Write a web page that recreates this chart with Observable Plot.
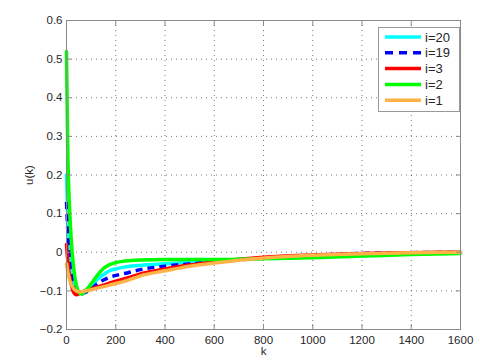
<!DOCTYPE html>
<html><head><meta charset="utf-8">
<script src="https://cdn.jsdelivr.net/npm/d3@7"></script>
<script src="https://cdn.jsdelivr.net/npm/@observablehq/plot@0.6"></script>
<style>body{margin:0;background:#fff}#chart{width:480px;height:363px}</style>
</head><body><div id="chart"></div>
<script>
// sample positions k
const kValues = [0, 5, 10, 15, 20, 25, 30, 40, 50, 60, 70, 80, 100, 125, 150, 175, 200, 250, 300, 400, 500, 600, 800, 1000, 1200, 1400, 1600];
// u(k) per series
const u20 = [0.20, 0.10, 0.03, 0.0, -0.03, -0.055, -0.075, -0.095, -0.105, -0.107, -0.105, -0.10, -0.09, -0.07, -0.058, -0.048, -0.043, -0.037, -0.034, -0.03, -0.026, -0.022, -0.015, -0.009, -0.005, -0.002, 0.0];
const u19 = [0.13, 0.06, 0.01, -0.025, -0.05, -0.07, -0.085, -0.10, -0.107, -0.108, -0.106, -0.103, -0.096, -0.082, -0.072, -0.065, -0.06, -0.053, -0.045, -0.036, -0.03, -0.025, -0.015, -0.008, -0.003, -0.001, 0.0];
const u3  = [0.02, -0.02, -0.05, -0.07, -0.085, -0.097, -0.105, -0.11, -0.108, -0.104, -0.101, -0.099, -0.095, -0.09, -0.085, -0.08, -0.075, -0.066, -0.056, -0.043, -0.033, -0.025, -0.013, -0.007, -0.003, -0.001, 0.0];
const u2  = [0.52, 0.27, 0.15, 0.08, 0.025, -0.015, -0.045, -0.085, -0.103, -0.108, -0.105, -0.098, -0.082, -0.06, -0.042, -0.032, -0.027, -0.022, -0.02, -0.019, -0.019, -0.019, -0.017, -0.014, -0.01, -0.006, -0.003];
const u1  = [-0.03, -0.05, -0.065, -0.077, -0.085, -0.09, -0.095, -0.10, -0.102, -0.102, -0.101, -0.10, -0.097, -0.093, -0.089, -0.085, -0.081, -0.072, -0.061, -0.048, -0.036, -0.028, -0.015, -0.008, -0.004, -0.001, 0.0];

const seriesNames = ["i=20", "i=19", "i=3", "i=2", "i=1"];
const seriesValues = [u20, u19, u3, u2, u1];
const seriesColors = ["#00ffff", "#0000ff", "#ff0000", "#00ff00", "#ffb347"];
const seriesDashes = [null, "7,5", null, null, null];

const xTicks = [0, 200, 400, 600, 800, 1000, 1200, 1400, 1600];
const xTickLabels = ["0", "200", "400", "600", "800", "1000", "1200", "1400", "1600"];
const yTicks = [-0.2, -0.1, 0, 0.1, 0.2, 0.3, 0.4, 0.5, 0.6];
const yTickLabels = ["\u22120.2", "\u22120.1", "0", "0.1", "0.2", "0.3", "0.4", "0.5", "0.6"];

const gridStyle = {stroke: "#666", strokeOpacity: 0.9, strokeDasharray: "1,4"};

const lineMarks = seriesValues.map((vals, i) =>
  Plot.line(kValues, {x: kValues, y: vals, stroke: seriesColors[i], strokeWidth: 3.5,
    strokeDasharray: seriesDashes[i] || undefined, curve: "monotone-x", strokeLinecap: seriesDashes[i] ? "butt" : "round"})
);

const chart = Plot.plot({
  width: 480, height: 363,
  marginLeft: 66, marginRight: 20, marginTop: 20, marginBottom: 34,
  style: {fontFamily: "'Liberation Sans', Arial, sans-serif", fontSize: "11.5px", color: "#262626", background: "#fff"},
  x: {domain: [0, 1600]},
  y: {domain: [-0.2, 0.6]},
  marks: [
    Plot.ruleX(xTicks.slice(1, -1), gridStyle),
    Plot.ruleY(yTicks.slice(1, -1), gridStyle),
    ...lineMarks,
    Plot.frame({stroke: "#8a8a8a"}),
    Plot.axisX({ticks: xTicks, tickSize: -5, tickPadding: 11, stroke: "#8a8a8a", fill: "#262626",
      tickFormat: (d) => xTickLabels[xTicks.indexOf(d)], label: "k", labelAnchor: "center", labelOffset: 25, labelArrow: "none"}),
    Plot.axisX({anchor: "top", ticks: xTicks, tickSize: -5, stroke: "#8a8a8a", tickFormat: () => "", label: null}),
    Plot.axisY({ticks: yTicks, tickSize: -5, tickPadding: 9, stroke: "#8a8a8a", fill: "#262626",
      tickFormat: (d) => yTickLabels[yTicks.findIndex(t => Math.abs(t - d) < 1e-9)], label: "u(k)", labelAnchor: "center", labelOffset: 42, labelArrow: "none"}),
    Plot.axisY({anchor: "right", ticks: yTicks, tickSize: -5, stroke: "#8a8a8a", tickFormat: () => "", label: null})
  ]
});
document.getElementById("chart").appendChild(chart);

// legend inside plot, top-right
const svg = d3.select(chart);
const lg = svg.append("g").attr("font-family", "'Liberation Sans', Arial, sans-serif").attr("font-size", 13).attr("text-anchor", "start");
lg.append("rect").attr("x", 378.5).attr("y", 27.5).attr("width", 81).attr("height", 84)
  .attr("fill", "#fff").attr("stroke", "#999");
seriesNames.forEach((name, i) => {
  const yy = 37 + i * 15.8;
  lg.append("line").attr("x1", 385).attr("x2", 421).attr("y1", yy).attr("y2", yy)
    .attr("stroke", seriesColors[i]).attr("stroke-width", 3.5)
    .attr("stroke-dasharray", seriesDashes[i] ? "8,6" : null);
  lg.append("text").attr("x", 425).attr("y", yy).attr("dy", "0.35em").attr("fill", "#262626").text(name);
});
</script></body></html>
